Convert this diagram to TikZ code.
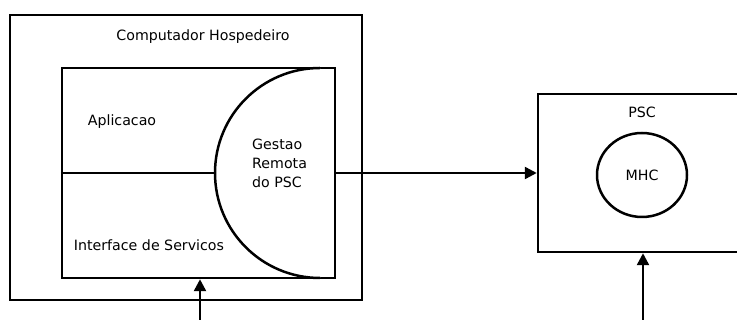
\documentclass[tikz,border=0pt]{standalone}
\usepackage{fontspec}
\setmainfont{DejaVu Sans}
\usetikzlibrary{arrows.meta,shapes.geometric}
\begin{document}
\begin{tikzpicture}[x=1pt,y=1pt,
  box/.style={draw=black,line width=2.5pt,rectangle,inner sep=0pt},
  lbl/.style={font=\fontsize{14.2}{19}\selectfont,inner sep=0pt},
  conn/.style={line width=2.5pt,-{Triangle[length=12pt,width=12pt]}}]
\useasboundingbox (0,0) rectangle (737,320);
\fill[white] (0,0) rectangle (737,320);
% host computer
\node[box,minimum width=352pt,minimum height=285pt] (host) at (186,162.5) {};
\node[lbl] (hostlbl) at (203,283) {Computador Hospedeiro};
\node[box,minimum width=273pt,minimum height=210pt] (iface) at (198.5,147) {};
\draw[line width=2.5pt,fill=white] (320,252) arc[start angle=90,end angle=270,radius=105pt] coordinate (arcbot);
\coordinate (arcleft) at (215,147);
\draw[line width=2.5pt] (iface.west) -- (arcleft);
\node[lbl] (app) at (122,198) {Aplicacao};
\node[lbl] (svc) at (149,75) {Interface de Servicos};
\node[lbl,align=left,anchor=west] (gest) at (252,157) {Gestao\\Remota\\do PSC};
% PSC
\node[box,minimum width=222pt,minimum height=158pt] (psc) at (649,147) {};
\node[lbl] (psclbl) at (642,208) {PSC};
\node[draw,line width=2.5pt,ellipse,minimum width=90pt,minimum height=84pt,inner sep=0pt] (mhc) at (642,145) {};
\node[lbl] (mhclbl) at (642,145) {MHC};
% connectors
\coordinate (in1) at (200,0);
\coordinate (in2) at (643,0);
\draw[conn] (iface.east) -- (psc.west);
\draw[conn] (in1) -- (in1 |- iface.south);
\draw[conn] (in2) -- (in2 |- psc.south);
\end{tikzpicture}
\end{document}
